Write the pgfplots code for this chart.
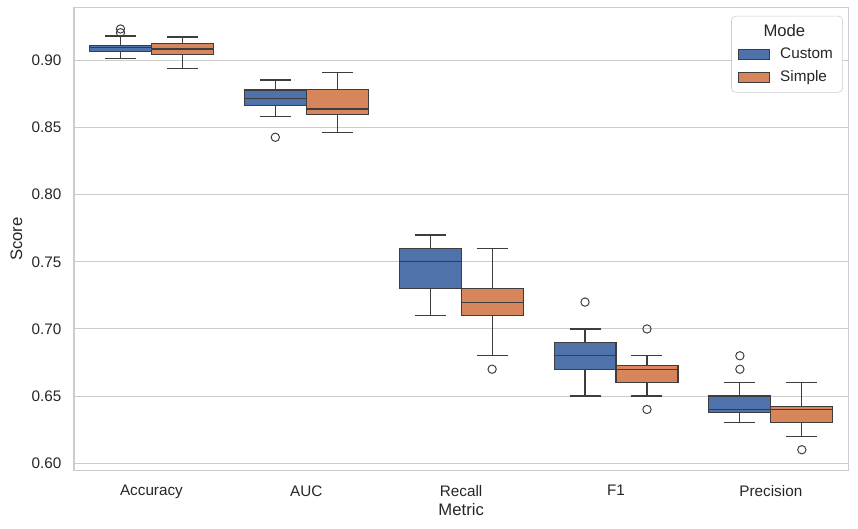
\documentclass[border=0pt]{standalone}
\usepackage{fontspec}
\setmainfont{Liberation Sans}
\usepackage{pgfplots}
\pgfplotsset{compat=1.18}
\usepgfplotslibrary{statistics}

\definecolor{cblue}{RGB}{80,114,170}
\definecolor{corange}{RGB}{214,134,90}
\definecolor{edge}{RGB}{61,61,61}
\definecolor{gridc}{RGB}{204,204,204}
\definecolor{txt}{RGB}{38,38,38}

\pgfplotsset{
  bx/.style={draw=edge, line width=0.8pt, forget plot,
    mark=o, mark size=3pt, mark options={draw=edge, solid, fill=none, line width=0.7pt}},
}

\begin{document}
\begin{tikzpicture}
\begin{axis}[
  name=ax,
  scale only axis,
  width=557.5pt, height=333.6pt,
  xmin=-0.5, xmax=4.5,
  ymin=0.5943, ymax=0.9395,
  xtick={0,1,2,3,4},
  xticklabels={Accuracy,AUC,Recall,F1,Precision},
  ytick={0.60,0.65,0.70,0.75,0.80,0.85,0.90},
  /pgf/number format/fixed,
  /pgf/number format/fixed zerofill,
  /pgf/number format/precision=2,
  /pgf/number format/assume math mode=true,
  scaled y ticks=false,
  ymajorgrids,
  major grid style={draw=gridc, line width=0.72pt},
  axis line style={draw=gridc, line width=0.9pt},
  major tick length=0pt,
  tick label style={font=\fontsize{11}{13}\selectfont, text=txt},
  xticklabel style={yshift=-7pt},
  yticklabel style={xshift=-5.5pt},
  label style={font=\fontsize{12}{14}\selectfont, text=txt},
  xlabel style={yshift=3.6pt},
  xlabel={Metric}, ylabel={Score},
  boxplot/draw direction=y,
  boxplot/box extend=0.4,
  boxplot/whisker extend=0.2,
  legend cell align=left,
  legend image code/.code={\draw[#1, sharp corners] (0pt,-3.6pt) rectangle (22pt,3.6pt);
    \path (27.5pt,0pt);},
  legend style={at={(rel axis cs:0.993,0.982)}, anchor=north east,
    draw=gridc, rounded corners=3pt, fill=white,
    font=\fontsize{11}{13}\selectfont, text=txt,
    row sep=3pt, inner xsep=5pt, inner ysep=4pt},
]
% Accuracy
\addplot[bx, fill=cblue, boxplot prepared={draw position=-0.2,
  lower whisker=0.9013, lower quartile=0.9066, median=0.9095,
  upper quartile=0.9115, upper whisker=0.9183}]
  coordinates {(-0.2,0.9207) (-0.2,0.9235)};
\addplot[bx, fill=corange, boxplot prepared={draw position=0.2,
  lower whisker=0.8942, lower quartile=0.9046, median=0.9086,
  upper quartile=0.9128, upper whisker=0.9175}]
  coordinates {};
% AUC
\addplot[bx, fill=cblue, boxplot prepared={draw position=0.8,
  lower whisker=0.8584, lower quartile=0.8666, median=0.8718,
  upper quartile=0.8780, upper whisker=0.8855}]
  coordinates {(0.8,0.8428)};
\addplot[bx, fill=corange, boxplot prepared={draw position=1.2,
  lower whisker=0.8465, lower quartile=0.8599, median=0.8639,
  upper quartile=0.8785, upper whisker=0.8914}]
  coordinates {};
% Recall
\addplot[bx, fill=cblue, boxplot prepared={draw position=1.8,
  lower whisker=0.71, lower quartile=0.73, median=0.75,
  upper quartile=0.76, upper whisker=0.77}]
  coordinates {};
\addplot[bx, fill=corange, boxplot prepared={draw position=2.2,
  lower whisker=0.68, lower quartile=0.71, median=0.72,
  upper quartile=0.73, upper whisker=0.76}]
  coordinates {(2.2,0.67)};
% F1
\addplot[bx, fill=cblue, boxplot prepared={draw position=2.8,
  lower whisker=0.65, lower quartile=0.67, median=0.68,
  upper quartile=0.69, upper whisker=0.70}]
  coordinates {(2.8,0.72)};
\addplot[bx, fill=corange, boxplot prepared={draw position=3.2,
  lower whisker=0.65, lower quartile=0.66, median=0.67,
  upper quartile=0.6725, upper whisker=0.68}]
  coordinates {(3.2,0.70) (3.2,0.64)};
% Precision
\addplot[bx, fill=cblue, boxplot prepared={draw position=3.8,
  lower whisker=0.63, lower quartile=0.6375, median=0.64,
  upper quartile=0.65, upper whisker=0.66}]
  coordinates {(3.8,0.67) (3.8,0.68)};
\addplot[bx, fill=corange, boxplot prepared={draw position=4.2,
  lower whisker=0.62, lower quartile=0.63, median=0.64,
  upper quartile=0.6425, upper whisker=0.66}]
  coordinates {(4.2,0.61)};

\addlegendimage{empty legend}
\addlegendentry{\fontsize{12}{14}\selectfont\hspace{-12pt}Mode}
\addlegendimage{fill=cblue, draw=edge, line width=0.6pt}
\addlegendentry{Custom}
\addlegendimage{fill=corange, draw=edge, line width=0.6pt}
\addlegendentry{Simple}
\end{axis}
\pgfresetboundingbox
\path[use as bounding box] ([shift={(-53.3pt,-41.9pt)}]ax.south west)
  rectangle ([shift={(7pt,5.4pt)}]ax.north east);
\end{tikzpicture}
\end{document}
